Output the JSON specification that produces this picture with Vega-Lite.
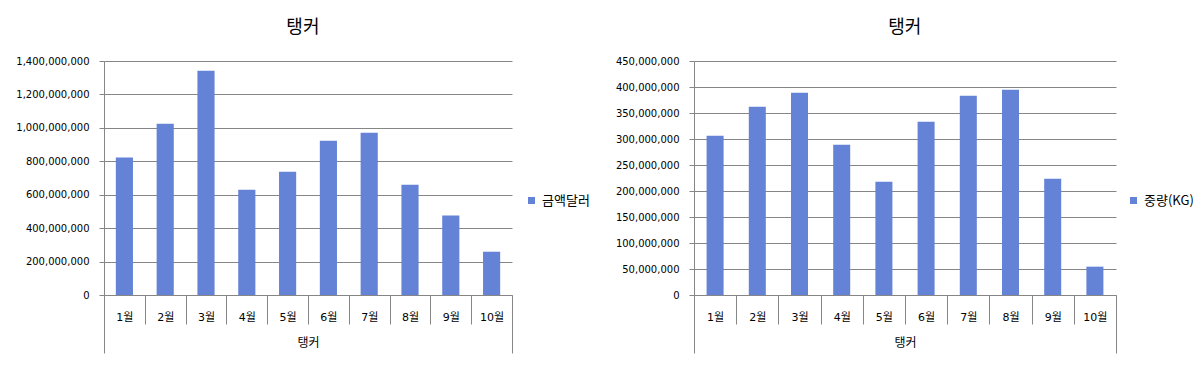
{
  "$schema": "https://vega.github.io/schema/vega-lite/v6.json",
  "padding": {"left": 15, "top": 19, "right": 0, "bottom": 0},
  "background": "white",
  "data": {"values": [
    {"월": "1월", "금액달러": 822000000, "중량(KG)": 306400000},
    {"월": "2월", "금액달러": 1025000000, "중량(KG)": 362200000},
    {"월": "3월", "금액달러": 1342000000, "중량(KG)": 389100000},
    {"월": "4월", "금액달러": 630000000, "중량(KG)": 289100000},
    {"월": "5월", "금액달러": 738000000, "중량(KG)": 218000000},
    {"월": "6월", "금액달러": 923000000, "중량(KG)": 333300000},
    {"월": "7월", "금액달러": 971000000, "중량(KG)": 383300000},
    {"월": "8월", "금액달러": 660000000, "중량(KG)": 394900000},
    {"월": "9월", "금액달러": 475000000, "중량(KG)": 223700000},
    {"월": "10월", "금액달러": 259000000, "중량(KG)": 54500000}
  ]},
  "hconcat": [
    {
      "width": 408,
      "height": 234,
      "title": {"text": "탱커"},
      "transform": [{"fold": ["금액달러"], "as": ["series", "value"]}],
      "mark": {"type": "bar", "color": "#6482D6", "width": {"band": 0.42}},
      "encoding": {
        "x": {
          "field": "월", "type": "nominal",
          "sort": ["1월","2월","3월","4월","5월","6월","7월","8월","9월","10월"],
          "scale": {"paddingInner": 0, "paddingOuter": 0},
          "axis": {"title": "탱커"}
        },
        "y": {
          "field": "value", "type": "quantitative",
          "scale": {"domain": [0, 1400000000], "nice": false},
          "axis": {"title": null, "values": [0,200000000,400000000,600000000,800000000,1000000000,1200000000,1400000000], "format": ",d"}
        },
        "color": {
          "field": "series", "type": "nominal",
          "scale": {"range": ["#6482D6"]},
          "legend": {"title": null, "orient": "none", "legendX": 421, "legendY": 133}
        }
      }
    },
    {
      "width": 422,
      "height": 234,
      "title": {"text": "탱커"},
      "transform": [{"fold": ["중량(KG)"], "as": ["series", "value"]}],
      "mark": {"type": "bar", "color": "#6482D6", "width": {"band": 0.403}},
      "encoding": {
        "x": {
          "field": "월", "type": "nominal",
          "sort": ["1월","2월","3월","4월","5월","6월","7월","8월","9월","10월"],
          "scale": {"paddingInner": 0, "paddingOuter": 0},
          "axis": {"title": "탱커"}
        },
        "y": {
          "field": "value", "type": "quantitative",
          "scale": {"domain": [0, 450000000], "nice": false},
          "axis": {"title": null, "values": [0,50000000,100000000,150000000,200000000,250000000,300000000,350000000,400000000,450000000], "format": ",d"}
        },
        "color": {
          "field": "series", "type": "nominal",
          "scale": {"range": ["#6482D6"]},
          "legend": {"title": null, "orient": "none", "legendX": 433, "legendY": 133}
        }
      }
    }
  ],
  "spacing": 182,
  "bounds": "flush",
  "resolve": {"scale": {"color": "independent", "y": "independent", "x": "independent"}},
  "config": {
    "font": "Noto Sans CJK KR",
    "view": {"stroke": null},
    "title": {"fontSize": 18, "fontWeight": "normal", "color": "#000000", "anchor": "middle", "frame": "bounds", "offset": 19},
    "axis": {"labelFont": "DejaVu Sans, Noto Sans CJK KR", "labelFontSize": 10, "labelColor": "#000000", "titleFont": "Noto Sans CJK KR", "titleFontSize": 12, "titleFontWeight": "normal", "titleColor": "#000000", "domainColor": "#868686", "tickColor": "#868686", "gridColor": "#868686", "labelOverlap": false},
    "axisY": {"grid": true, "tickSize": 5, "labelPadding": 10, "domain": true},
    "axisX": {"grid": false, "labelAngle": 0, "labelFontSize": 11, "tickBand": "extent", "tickSize": {"condition": {"test": "datum.index == 1 || datum.extra", "value": 58}, "value": 29}, "labelBaseline": "middle", "labelPadding": {"condition": {"test": "datum.index == 1", "value": -36}, "value": -7}, "titlePadding": -16},
    "legend": {"labelFont": "Noto Sans CJK KR", "labelFontSize": 13, "labelColor": "#000000", "symbolType": "square", "symbolSize": 49, "symbolStrokeWidth": 0}
  }
}
